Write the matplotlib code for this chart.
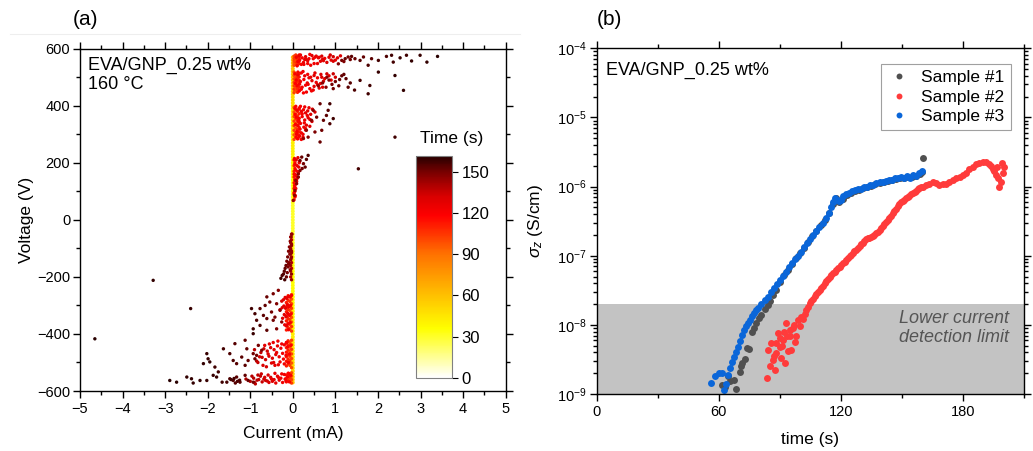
import numpy as np
import matplotlib
matplotlib.use('Agg')
import matplotlib.pyplot as plt
from matplotlib.colors import LinearSegmentedColormap, Normalize
from matplotlib.ticker import MultipleLocator, LogLocator, NullFormatter
from matplotlib.lines import Line2D

plt.rcParams['font.family'] = ['Liberation Sans', 'DejaVu Sans']
plt.rcParams['mathtext.fontset'] = 'custom'
plt.rcParams['mathtext.rm'] = 'Liberation Sans'
plt.rcParams['mathtext.it'] = 'Liberation Sans:italic'

###############################################################################
# (a) I-V points coloured by time
# thin band of early points sitting on I = 0
band_V = [-570, -560, -550, -540, -530, -520, -510, -500, -490, -480,
          -470, -460, -450, -440, -430, -420, -410, -400, -390, -380,
          -370, -360, -350, -340, -330, -320, -310, -300, -290, -280,
          -270, -260, -250, -240, -230, -220, -210, -200, -190, -180,
          -170, -160, -150, -140, -130, -120, -110, -100, -90, -80,
          -70, -60, -50, -40, -30, -20, -10, 0, 10, 20,
          30, 40, 50, 60, 70, 80, 90, 100, 110, 120,
          130, 140, 150, 160, 170, 180, 190, 200, 210, 220,
          230, 240, 250, 260, 270, 280, 290, 300, 310, 320,
          330, 340, 350, 360, 370, 380, 390, 400, 410, 420,
          430, 440, 450, 460, 470, 480, 490, 500, 510, 520,
          530, 540, 550, 560, 570]
band_t = [58, 56, 55, 54, 52, 52, 50, 50, 48, 48,
          47, 46, 46, 45, 44, 44, 43, 43, 42, 42,
          42, 41, 41, 40, 40, 40, 39, 39, 39, 38,
          38, 38, 37, 37, 37, 36, 36, 36, 35, 35,
          35, 34, 34, 34, 33, 33, 33, 32, 32, 32,
          31, 31, 30, 30, 30, 30, 30, 30, 30, 30,
          31, 31, 31, 32, 32, 33, 33, 34, 34, 35,
          35, 36, 36, 37, 37, 38, 38, 39, 39, 40,
          40, 41, 41, 42, 42, 43, 43, 44, 44, 45,
          45, 46, 46, 47, 47, 48, 48, 49, 49, 50,
          50, 51, 52, 52, 53, 54, 55, 56, 57, 58,
          59, 60, 61, 62, 63]
band_I = [0.0] * len(band_V)

# orange points just off zero current (one row per voltage step)
inner_I = [0.03, 0.07, 0.03, 0.07, 0.03, 0.07, 0.03, 0.07, 0.03, 0.07,
           0.03, 0.07, 0.03, 0.07, 0.03, 0.07, 0.03, 0.07, 0.03, 0.07, 0.03, 0.07, 0.03,
           0.03, 0.07, 0.03, 0.07, 0.03, 0.07, 0.03, 0.07, 0.03, 0.07, 0.03, 0.07, 0.03, 0.07, 0.03,
           0.03, 0.05, 0.03, 0.05, 0.03, 0.05, 0.03, 0.05, 0.03, 0.05, 0.03, 0.05, 0.03, 0.05, 0.03,
           -0.03, -0.05, -0.03, -0.05, -0.03, -0.05, -0.03, -0.05, -0.03, -0.05, -0.03, -0.05, -0.03, -0.05, -0.03, -0.05, -0.03,
           -0.03, -0.07, -0.03, -0.07, -0.03, -0.07, -0.03, -0.07, -0.03, -0.07, -0.03, -0.07, -0.03, -0.07, -0.03, -0.07, -0.03,
           -0.03, -0.07, -0.03, -0.07, -0.03, -0.07, -0.03, -0.07, -0.03, -0.07, -0.03, -0.07, -0.03,
           -0.03, -0.07, -0.03, -0.07, -0.03, -0.07, -0.03]
inner_V = [542, 546, 550, 554, 558, 562, 566, 570, 574, 578,
           446, 452, 458, 464, 470, 476, 482, 488, 494, 500, 506, 512, 518,
           282, 290, 298, 306, 314, 322, 330, 338, 346, 354, 362, 370, 378, 386, 394,
           70, 80, 90, 100, 110, 120, 130, 140, 150, 160, 170, 180, 190, 200, 210,
           -50, -60, -70, -80, -90, -100, -110, -120, -130, -140, -150, -160, -170, -180, -190, -200, -210,
           -262, -270, -278, -286, -294, -302, -310, -318, -326, -334, -342, -350, -358, -366, -374, -382, -390,
           -422, -430, -438, -446, -454, -462, -470, -478, -486, -494, -502, -510, -518,
           -536, -542, -548, -554, -560, -566, -572]
inner_t = [100, 104, 98, 106, 102, 100, 104, 98, 102, 106,
           102, 98, 106, 100, 104, 98, 102, 106, 100, 104, 98, 102, 100,
           100, 104, 98, 106, 102, 100, 104, 98, 102, 106, 100, 104, 98, 102, 100,
           112, 116, 110, 114, 118, 112, 116, 110, 114, 118, 112, 116, 110, 114, 118,
           140, 144, 138, 142, 146, 140, 144, 138, 142, 146, 140, 144, 138, 142, 146, 140, 144,
           100, 104, 98, 106, 102, 100, 104, 98, 102, 106, 100, 104, 98, 102, 106, 100, 104,
           102, 98, 106, 100, 104, 98, 102, 106, 100, 104, 98, 102, 100,
           100, 104, 98, 106, 102, 100, 104]

# second row of orange-red points a little further out
mid_I = [0.11, 0.15, 0.11, 0.15, 0.11, 0.15, 0.11, 0.15,
         0.11, 0.15, 0.11, 0.15, 0.11, 0.15, 0.11, 0.15, 0.11, 0.15, 0.11, 0.15,
         0.11, 0.15, 0.11, 0.15, 0.11, 0.15, 0.11, 0.15, 0.11, 0.15, 0.11, 0.15, 0.11, 0.15,
         -0.11, -0.15, -0.11, -0.15, -0.11, -0.15, -0.11, -0.15, -0.11, -0.15, -0.11, -0.15,
         -0.11, -0.15, -0.11, -0.15,
         -0.11, -0.15, -0.11, -0.15, -0.11, -0.15, -0.11, -0.15, -0.11, -0.15, -0.11, -0.15,
         -0.11, -0.15, -0.11, -0.15, -0.11, -0.15]
mid_V = [543, 548, 553, 558, 563, 568, 573, 578,
         447, 453, 459, 465, 471, 477, 483, 489, 495, 501, 507, 513,
         284, 292, 300, 308, 316, 324, 332, 340, 348, 356, 364, 372, 380, 388,
         -266, -274, -282, -290, -298, -306, -314, -322, -330, -338, -346, -354,
         -362, -370, -378, -386,
         -424, -432, -440, -448, -456, -464, -472, -480, -488, -496, -504, -512,
         -538, -544, -550, -556, -562, -568]
mid_t = [108, 112, 110, 114, 108, 112, 110, 114,
         110, 114, 108, 112, 110, 114, 108, 112, 110, 114, 108, 112,
         110, 114, 108, 112, 110, 114, 108, 112, 110, 114, 108, 112, 110, 114,
         110, 114, 108, 112, 110, 114, 108, 112, 110, 114, 108, 112,
         110, 114, 108, 112,
         110, 114, 108, 112, 110, 114, 108, 112, 110, 114, 108, 112,
         110, 114, 108, 112, 110, 114]

# red points (around 120-135 s)
red_I = [0.08, 0.15, 0.22, 0.30, 0.38, 0.45, 0.52, 0.60, 0.68, 0.75, 0.85, 0.95, 1.05,
         0.12, 0.25, 0.35, 0.50, 0.65, 0.80, 0.90, 0.20, 0.42, 0.58, 0.10, 0.32,
         0.05, 0.12, 0.20, 0.28, 0.35, 0.42, 0.50, 0.58, 0.66, 0.75, 0.85, 0.95, 0.08, 0.18, 0.26,
         0.34, 0.45, 0.55, 0.65, 0.72, 0.10, 0.22, 0.30, 0.40, 0.50, 0.62, 0.15, 0.32, 0.48, 0.25,
         0.05, 0.10, 0.15, 0.20, 0.25, 0.30, 0.35, 0.42, 0.08, 0.14, 0.22, 0.28, 0.36, 0.45, 0.06,
         0.12, 0.18, 0.26, 0.32, 0.40, 0.10, 0.20, 0.30, 0.16, 0.24, 0.12, 0.20, 0.05, 0.09, 0.15,
         0.04, 0.08, 0.12, 0.16, 0.05, 0.10, 0.14, 0.06, 0.11, 0.03,
         0.08, 0.13, 0.05, 0.09, 0.04, 0.07, 0.03, 0.06, 0.10, 0.15,
         -0.03, -0.06, -0.10, -0.14, -0.18, -0.22, -0.26, -0.05, -0.09, -0.13, -0.17, -0.21, -0.25,
         -0.30, -0.04, -0.08, -0.12, -0.16, -0.20, -0.24, -0.06, -0.11, -0.15, -0.19, -0.10,
         -0.05, -0.12, -0.20, -0.28, -0.36, -0.44, -0.52, -0.60, -0.68, -0.75, -0.08, -0.16, -0.24,
         -0.32, -0.40, -0.48, -0.56, -0.64, -0.72, -0.85, -0.10, -0.20, -0.30, -0.42, -0.50, -0.62,
         -0.15, -0.35, -0.55, -0.90,
         -0.05, -0.12, -0.20, -0.28, -0.36, -0.44, -0.52, -0.60, -0.68, -0.76, -0.84, -0.92, -0.08,
         -0.16, -0.24, -0.32, -0.40, -0.48, -0.56, -0.64, -0.72, -0.80, -0.90, -1.00, -1.10]
red_V = [570, 575, 568, 572, 565, 576, 570, 568, 574, 566, 570, 572, 568,
         555, 552, 558, 548, 556, 552, 560, 545, 542, 548, 540, 562,
         512, 508, 515, 505, 510, 500, 506, 498, 510, 495, 505, 512, 490, 485, 492,
         480, 488, 482, 478, 486, 470, 465, 472, 460, 468, 462, 452, 448, 455, 445,
         390, 385, 392, 380, 386, 375, 382, 370, 360, 355, 362, 350, 358, 345, 335,
         330, 338, 325, 332, 328, 310, 305, 315, 295, 300, 285, 282, 370, 300, 345,
         215, 210, 218, 205, 195, 190, 185, 175, 170, 160,
         155, 165, 140, 135, 120, 110, 95, 85, 145, 200,
         -265, -270, -268, -275, -272, -280, -285, -300, -305, -298, -310, -302, -308,
         -315, -330, -335, -328, -340, -332, -345, -360, -365, -372, -368, -385,
         -440, -445, -438, -450, -442, -455, -448, -460, -452, -465, -470, -475, -468,
         -480, -472, -485, -478, -490, -482, -495, -500, -505, -498, -510, -502, -515,
         -430, -425, -435, -455,
         -545, -550, -542, -555, -548, -560, -552, -565, -558, -548, -562, -555, -568,
         -565, -570, -562, -572, -566, -570, -563, -568, -560, -570, -566, -558]
red_t = [122, 126, 120, 128, 124, 130, 122, 126, 132, 124, 128, 134, 130,
         121, 125, 127, 123, 129, 131, 127, 120, 124, 126, 119, 125,
         121, 125, 123, 127, 122, 126, 129, 124, 131, 128, 132, 135, 120, 124, 122,
         126, 128, 125, 130, 133, 119, 123, 121, 125, 127, 129, 118, 122, 126, 120,
         120, 123, 121, 125, 124, 127, 129, 131, 119, 122, 124, 126, 128, 132, 118,
         121, 123, 125, 127, 130, 120, 122, 125, 121, 124, 119, 122, 118, 120, 121,
         124, 126, 128, 130, 122, 125, 127, 121, 124, 120,
         122, 126, 121, 123, 120, 122, 119, 121, 124, 128,
         120, 122, 124, 126, 128, 130, 132, 121, 123, 125, 127, 129, 131,
         134, 120, 122, 124, 126, 128, 130, 121, 123, 125, 127, 122,
         119, 121, 123, 125, 127, 129, 131, 133, 135, 137, 120, 122, 124,
         126, 128, 130, 132, 134, 136, 138, 121, 123, 125, 128, 130, 133,
         120, 124, 128, 138,
         119, 121, 123, 125, 127, 129, 131, 133, 135, 137, 138, 139, 120,
         122, 124, 126, 128, 130, 132, 134, 136, 137, 138, 139, 140]

# more red points filling the clusters
red2_I = [0.18, 0.28, 0.40, 0.55, 0.70, 0.88, 1.00, 1.12, 0.48, 0.62, 0.72, 0.35, 0.16, 0.26, 0.95,
          0.12, 0.24, 0.38, 0.52, 0.68, 0.80, 0.90, 1.00, 0.16, 0.36, 0.58, 0.44, 0.70, 0.20, 0.06,
          0.07, 0.18, 0.28, 0.38, 0.46, 0.52, 0.22, 0.34, 0.13, 0.27, 0.40, 0.17, 0.30, 0.08, 0.24,
          -0.14, -0.26, -0.38, -0.46, -0.58, -0.66, -0.78, -0.82, -0.70, -0.34, -0.22, -0.45,
          -0.10, -0.18, -0.26, -0.34, -0.42, -0.50, -0.58, -0.66, -0.74, -0.82, -0.88, -0.96]
red2_V = [578, 562, 580, 574, 563, 578, 560, 575, 565, 570, 558, 548, 560, 545, 556,
          518, 520, 498, 515, 500, 512, 490, 500, 476, 475, 474, 452, 465, 458, 478,
          398, 398, 396, 393, 388, 378, 372, 366, 345, 340, 352, 318, 320, 290, 290,
          -430, -435, -465, -430, -470, -440, -480, -500, -510, -508, -488, -500,
          -538, -558, -540, -552, -538, -558, -544, -552, -540, -544, -575, -548]
red2_t = [124, 128, 121, 126, 130, 133, 127, 131, 123, 126, 129, 122, 120, 125, 132,
          121, 124, 126, 129, 131, 133, 127, 134, 122, 125, 128, 123, 130, 120, 118,
          119, 121, 124, 127, 129, 131, 122, 125, 120, 123, 127, 121, 124, 118, 122,
          121, 124, 127, 126, 130, 128, 133, 136, 132, 125, 122, 129,
          118, 121, 123, 125, 127, 129, 131, 133, 135, 137, 138, 139]

# dark points (last ~15 s)
late_I = [1.07, 1.15, 1.23, 1.30, 1.38, 1.46, 1.58, 1.66, 1.77, 1.85, 2.01,
          2.20, 2.32, 2.36, 2.52, 2.67, 2.79, 2.99, 3.15, 3.40, 1.20, 1.35,
          0.60, 0.70, 0.78, 0.85, 0.92, 1.00, 1.08, 1.15, 1.25, 1.35, 1.45,
          1.58, 1.77, 1.81, 2.01, 2.40, 2.60, 0.80, 0.95, 1.10, 1.30, 1.20,
          0.64, 0.48, 0.56, 0.44, 0.72, 0.83, 0.87, 0.79, 0.32, 0.36, 0.52, 0.64, 0.87, 0.95, 0.68, 0.25,
          0.21, 0.36, 0.25, 0.17, 0.13, 0.09, 0.05, 0.17, 0.29, 0.13, 0.07, 0.04, 0.01, 0.32, 0.22,
          -0.02, -0.04, -0.06, -0.03, -0.08, -0.05, -0.10, -0.07, -0.12, -0.04, -0.14, -0.09, -0.16,
          -0.11, -0.18, -0.06, -0.20, -0.13, -0.22, -0.25, -0.28, -0.15, -0.10, -0.03, -0.19,
          -0.34, -0.46, -0.61, -0.54, -0.65, -0.38, -0.77, -0.97, -0.89, -0.69, -0.50,
          -0.30, -0.85, -0.61, -0.42, -0.93, -0.77, -0.61, -0.26, -0.38, -0.93, -0.46,
          -1.63, -1.36, -1.48, -1.12, -1.08, -0.93, -0.81, -0.89, -1.05, -1.20, -1.32, -1.12,
          -0.73, -2.02, -1.99, -1.95, -2.10, -1.83, -1.75, -1.87, -1.79, -1.40, -0.85,
          -1.40, -1.32, -1.48, -1.24, -1.12, -1.05, -1.55, -0.93, -2.89, -2.73, -2.49,
          -2.34, -2.18, -2.38, -2.02, -1.66, -1.30, -1.45, -1.35, -1.25, -1.38,
          2.40, 1.54, -4.65, -3.28, -2.40]
late_V = [547, 559, 565, 571, 573, 565, 559, 571, 542, 565, 559,
          573, 577, 553, 568, 577, 557, 577, 553, 573, 555, 562,
          470, 480, 465, 490, 475, 485, 470, 505, 495, 480, 455,
          489, 442, 471, 518, 506, 454, 500, 460, 492, 465, 510,
          407, 384, 360, 349, 349, 384, 337, 366, 314, 290, 308, 273, 407, 355, 314, 285,
          220, 226, 197, 173, 150, 127, 103, 208, 185, 161, 138, 86, 68, 212, 180,
          -50, -60, -75, -85, -95, -105, -110, -120, -130, -135, -145, -150, -160,
          -165, -170, -175, -180, -185, -190, -195, -205, -200, -155, -115, -210,
          -247, -259, -270, -288, -300, -294, -311, -311, -329, -335, -323,
          -317, -352, -346, -341, -382, -370, -387, -358, -382, -399, -352,
          -452, -434, -469, -422, -452, -469, -440, -487, -493, -481, -504, -510,
          -457, -469, -487, -498, -504, -516, -533, -545, -551, -493, -475,
          -563, -551, -557, -569, -545, -563, -569, -569, -563, -569, -551,
          -572, -563, -557, -563, -569, -566, -560, -572, -562, -556,
          290, 179, -417, -212, -311]
late_t = [148, 150, 152, 150, 154, 152, 155, 153, 156, 154, 157,
          156, 158, 157, 159, 158, 160, 159, 160, 161, 149, 151,
          146, 147, 148, 149, 150, 151, 152, 153, 154, 155, 156,
          157, 158, 158, 159, 160, 160, 148, 150, 152, 154, 153,
          152, 148, 150, 147, 153, 155, 156, 154, 146, 147, 149, 152, 157, 158, 151, 145,
          152, 156, 150, 148, 147, 146, 145, 150, 153, 148, 146, 145, 144, 155, 151,
          145, 146, 147, 145, 148, 146, 149, 147, 150, 146, 151, 148, 152,
          149, 153, 147, 154, 150, 155, 156, 158, 152, 149, 145, 157,
          148, 150, 152, 151, 153, 149, 155, 158, 157, 154, 151,
          147, 156, 153, 150, 158, 156, 154, 146, 149, 159, 151,
          157, 155, 156, 153, 153, 151, 150, 152, 153, 154, 155, 154,
          149, 159, 159, 160, 160, 158, 158, 159, 159, 156, 150,
          155, 154, 156, 155, 153, 152, 157, 150, 161, 161, 160,
          160, 160, 160, 159, 158, 156, 157, 155, 156, 157,
          158, 157, 161, 160, 159]

time_ticks = [0, 30, 60, 90, 120, 150]

# (b) conductivity vs time
s1_t = [61.5, 63, 64.5, 65.5, 67.4, 68.7, 70.3, 71, 71.6, 72.8, 74.1, 74.9, 76.1, 77.3, 78.5,
        80, 81, 82.5, 84, 85, 86.5, 88, 90, 92, 94, 96, 98, 100, 102, 104, 106, 108, 110,
        112, 114, 116, 117.5, 119, 121, 123, 125, 127, 129, 131, 133, 135, 137, 139, 141,
        143, 145, 147, 149, 151, 153, 155, 157, 159, 160, 160.6]
s1_sig = [1.35e-9, 1.25e-9, 1.8e-9, 1.55e-9, 1.6e-9, 1.17e-9, 2.1e-9, 2.5e-9, 2.8e-9, 3.2e-9,
          4.6e-9, 4.5e-9, 7.9e-9, 9.0e-9, 1.05e-8, 1.25e-8, 1.4e-8, 1.7e-8, 1.95e-8, 2.2e-8,
          2.7e-8, 3.2e-8, 4.1e-8, 5.2e-8, 6.3e-8, 7.6e-8, 9.2e-8, 1.1e-7, 1.3e-7, 1.58e-7,
          1.9e-7, 2.25e-7, 2.75e-7, 3.3e-7, 4.1e-7, 5.6e-7, 6.9e-7, 6.0e-7, 6.6e-7, 7.6e-7,
          8.2e-7, 8.7e-7, 8.9e-7, 9.4e-7, 9.8e-7, 1.03e-6, 1.08e-6, 1.12e-6, 1.15e-6, 1.2e-6,
          1.24e-6, 1.3e-6, 1.32e-6, 1.33e-6, 1.36e-6, 1.38e-6, 1.42e-6, 1.5e-6, 1.6e-6, 2.57e-6]

s2_t = [83.7, 84.2, 85.0, 85.9, 86.7, 87.0, 87.5, 88.0, 88.3, 89.1, 89.9, 90.0, 90.8, 91.0,
        91.6, 92.0, 92.4, 93.2, 93.6, 94.0, 94.8, 95.0, 95.7, 96.5, 97.0, 97.3, 98.1, 98.9,
        99.7, 100.6, 101.5, 102.2, 103.0, 103.8, 104.7, 105.5, 106.3, 107.1, 108.0, 108.8,
        109.6, 110.4, 111.2, 112.0, 112.9, 113.7, 114.5, 115.3, 116.1, 116.9, 117.7, 118.5,
        119.4, 120.2, 121.0, 121.8, 122.7, 123.5, 124.3, 125.1, 125.9, 126.7, 127.5, 128.4,
        129.2, 130.0, 130.8, 131.6, 132.5, 133.3, 134.0, 134.9, 135.7, 136.5, 137.3, 138.1,
        139.0, 139.8, 140.6, 141.4, 142.3, 143.1, 143.9, 144.7, 145.5, 146.3, 147.2, 148.0,
        148.8, 149.6, 150.4, 151.2, 152.1, 152.9, 153.7, 154.5, 155.4, 156.2, 157.0, 157.8,
        158.6, 159.4, 160.2, 161.9, 163.5, 165.2, 166.8, 168.4, 170.0, 171.7, 173.3, 175.0,
        176.6, 178.3, 179.9, 181.5, 183.2, 184.8, 186.4, 188.1, 189.7, 191.4, 193.0, 193.8,
        194.6, 195.4, 196.2, 196.5, 197.1, 197.9, 198.7, 199.2, 199.5, 200.4]
s2_sig = [1.7e-9, 4.4e-9, 2.5e-9, 5.4e-9, 3.1e-9, 3.6e-9, 2.2e-9, 5.5e-9, 3.9e-9, 7.6e-9,
          4.8e-9, 6.5e-9, 3.3e-9, 5.0e-9, 6.0e-9, 8.0e-9, 2.8e-9, 1.05e-8, 6.8e-9, 4.2e-9,
          8.5e-9, 7.0e-9, 4.4e-9, 8.9e-9, 1.0e-8, 5.6e-9, 6.8e-9, 1.17e-8, 9.5e-9, 1.32e-8,
          1.2e-8, 1.45e-8, 1.66e-8, 1.8e-8, 2.04e-8, 2.2e-8, 2.4e-8, 2.6e-8, 2.8e-8, 3.0e-8,
          3.2e-8, 3.45e-8, 3.7e-8, 4.0e-8, 4.3e-8, 4.6e-8, 4.9e-8, 5.2e-8, 5.6e-8, 5.9e-8,
          6.3e-8, 6.6e-8, 6.9e-8, 7.3e-8, 7.8e-8, 8.2e-8, 8.7e-8, 9.2e-8, 9.8e-8, 1.04e-7,
          1.1e-7, 1.16e-7, 1.23e-7, 1.3e-7, 1.38e-7, 1.46e-7, 1.55e-7, 1.64e-7, 1.74e-7,
          1.78e-7, 1.82e-7, 1.86e-7, 1.9e-7, 2.0e-7, 2.1e-7, 2.2e-7, 2.35e-7, 2.5e-7, 2.7e-7,
          2.9e-7, 3.1e-7, 3.3e-7, 3.55e-7, 3.8e-7, 4.1e-7, 4.45e-7, 4.8e-7, 5.2e-7, 5.6e-7,
          5.9e-7, 6.2e-7, 6.5e-7, 6.8e-7, 7.1e-7, 7.4e-7, 7.8e-7, 8.1e-7, 8.4e-7, 8.7e-7,
          9.1e-7, 9.5e-7, 9.8e-7, 1.0e-6, 1.05e-6, 1.1e-6, 1.15e-6, 1.12e-6, 1.07e-6, 1.1e-6,
          1.1e-6, 1.17e-6, 1.26e-6, 1.32e-6, 1.38e-6, 1.48e-6, 1.58e-6, 1.78e-6, 1.95e-6,
          2.1e-6, 2.2e-6, 2.3e-6, 2.3e-6, 2.15e-6, 2.0e-6, 1.78e-6, 1.66e-6, 1.45e-6, 1.9e-6,
          1.32e-6, 1.0e-6, 1.17e-6, 2.2e-6, 1.58e-6, 1.95e-6]

s3_t = [56, 58, 60, 61.5, 62.5, 63.5, 64.5, 65.5, 66.5, 67.5, 68.5, 69.5, 70.5, 71.5, 72.5,
        73.5, 74.5, 75.5, 76.5, 77.5, 78.5, 79.5, 81, 82.5, 84, 85.5, 87, 88.5, 90, 91.5,
        93, 94.5, 96, 97.5, 99, 100.5, 102, 103.5, 105, 106.5, 108, 109.5, 111, 112.5,
        114, 115, 116, 117, 118, 119, 120, 121, 122.5, 124, 125.5, 127, 128.5, 130, 131.5,
        133, 134.5, 136, 137.5, 139, 140.5, 142, 143.5, 145, 146.5, 148, 149.5, 151,
        152.5, 154, 155.5, 157, 158.5, 160]
s3_sig = [1.45e-9, 1.8e-9, 2.0e-9, 2.0e-9, 1.15e-9, 1.4e-9, 1.9e-9, 2.4e-9, 2.95e-9, 3.4e-9,
          4.0e-9, 4.8e-9, 5.8e-9, 7.1e-9, 8.3e-9, 9.5e-9, 1.07e-8, 1.17e-8, 1.35e-8, 1.48e-8,
          1.66e-8, 1.78e-8, 2.0e-8, 2.3e-8, 2.57e-8, 2.95e-8, 3.4e-8, 3.9e-8, 4.47e-8, 5.1e-8,
          5.9e-8, 6.8e-8, 7.8e-8, 8.9e-8, 1.0e-7, 1.15e-7, 1.32e-7, 1.51e-7, 1.74e-7, 2.0e-7,
          2.3e-7, 2.63e-7, 3.0e-7, 3.55e-7, 4.2e-7, 5.0e-7, 6.0e-7, 6.8e-7, 6.5e-7, 6.2e-7,
          6.5e-7, 7.2e-7, 7.8e-7, 8.1e-7, 8.5e-7, 8.9e-7, 9.1e-7, 9.3e-7, 9.8e-7, 1.0e-6,
          1.05e-6, 1.07e-6, 1.12e-6, 1.15e-6, 1.17e-6, 1.2e-6, 1.26e-6, 1.26e-6, 1.35e-6,
          1.32e-6, 1.38e-6, 1.35e-6, 1.41e-6, 1.32e-6, 1.45e-6, 1.41e-6, 1.55e-6, 1.66e-6]

detection_limit = 2e-8
###############################################################################

# colour map of the time scale: white -> yellow -> orange -> red -> near black
cmap = LinearSegmentedColormap.from_list(
    'time', [(0.0, '#ffffff'), (0.22, '#ffff00'), (0.40, '#ffb400'), (0.56, '#ff7000'),
             (0.73, '#ff0000'), (0.82, '#d80000'), (0.92, '#800000'), (1.0, '#250000')])
norm = Normalize(vmin=0, vmax=162)

fig = plt.figure(figsize=(10.33, 4.51), dpi=100)


def style_ticks(ax):
    ax.tick_params(which='both', top=True, right=True, labelsize=10.5, width=1.0)
    ax.tick_params(axis='x', which='major', direction='out', length=5, pad=3)
    ax.tick_params(axis='y', which='major', direction='out', length=5, pad=2)
    ax.tick_params(which='minor', direction='out', length=3)
    for sp in ax.spines.values():
        sp.set_linewidth(1.0)


# (a) I-V chart
ax1 = fig.add_axes([0.0774, 0.1330, 0.4121, 0.7590])
groups = [(band_I, band_V, band_t, 8), (inner_I, inner_V, inner_t, 6),
          (mid_I, mid_V, mid_t, 6), (red_I, red_V, red_t, 6),
          (red2_I, red2_V, red2_t, 6), (late_I, late_V, late_t, 6)]
for I, V, t, size in groups:
    sc = ax1.scatter(I, V, c=t, cmap=cmap, norm=norm, s=size, linewidths=0, marker='o')
ax1.set_xlim(-5, 5)
ax1.set_ylim(-600, 600)
ax1.xaxis.set_major_locator(MultipleLocator(1))
ax1.xaxis.set_minor_locator(MultipleLocator(0.5))
ax1.yaxis.set_major_locator(MultipleLocator(200))
ax1.yaxis.set_minor_locator(MultipleLocator(100))
style_ticks(ax1)
ax1.set_xlabel('Current (mA)', fontsize=12.5, labelpad=7)
ax1.set_ylabel('Voltage (V)', fontsize=12.5, labelpad=2)
ax1.text(0.02, 0.975, 'EVA/GNP_0.25 wt%\n160 \u00b0C', transform=ax1.transAxes,
         fontsize=13, va='top', ha='left', linespacing=1.15)

cax = fig.add_axes([0.4027, 0.1625, 0.0346, 0.4922])
cb = fig.colorbar(sc, cax=cax, ticks=time_ticks)
cb.outline.set_edgecolor('#808080')
cb.outline.set_linewidth(0.8)
cax.tick_params(direction='out', length=4, labelsize=12, pad=3)
fig.text(0.4375, 0.692, 'Time (s)', fontsize=12.5, ha='center', va='center')

# (b) sigma vs time
ax2 = fig.add_axes([0.5776, 0.1264, 0.4137, 0.7665])
ax2.set_yscale('log')
ax2.axhspan(1e-9, detection_limit, color='#c3c3c3', lw=0, zorder=0)
ax2.plot(s1_t, s1_sig, 'o', ms=5, mew=0, color='#505050', label='Sample #1')
ax2.plot(s2_t, s2_sig, 'o', ms=5, mew=0, color='#ff3b3b', label='Sample #2')
ax2.plot(s3_t, s3_sig, 'o', ms=5, mew=0, color='#0a66d9', label='Sample #3')
ax2.set_xlim(0, 210)
ax2.set_ylim(1e-9, 1e-4)
ax2.xaxis.set_major_locator(MultipleLocator(60))
ax2.xaxis.set_minor_locator(MultipleLocator(30))
ax2.yaxis.set_major_locator(LogLocator(base=10, numticks=10))
ax2.yaxis.set_minor_locator(LogLocator(base=10, subs=np.arange(2, 10), numticks=10))
ax2.yaxis.set_minor_formatter(NullFormatter())
style_ticks(ax2)
ax2.set_xlabel('time (s)', fontsize=12.5, labelpad=9)
ax2.set_ylabel(r'$\sigma_z$ (S/cm)', fontsize=12.5, labelpad=9)
ax2.text(0.021, 0.937, 'EVA/GNP_0.25 wt%', transform=ax2.transAxes,
         fontsize=13, va='center', ha='left')
ax2.text(0.966, 0.19, 'Lower current\ndetection limit', transform=ax2.transAxes,
         fontsize=13, style='italic', color='#555555', ha='right', va='center',
         linespacing=1.15)
leg = ax2.legend(loc='upper right', bbox_to_anchor=(0.969, 0.955), borderaxespad=0,
                 fontsize=12.5, frameon=True, fancybox=False, markerscale=0.85,
                 handletextpad=0.6, borderpad=0.35, labelspacing=0.25, handlelength=1.4)
leg.get_frame().set_edgecolor('#888888')
leg.get_frame().set_linewidth(0.8)

fig.text(0.0828, 0.956, '(a)', fontsize=15, ha='center', va='center')
fig.text(0.5895, 0.956, '(b)', fontsize=15, ha='center', va='center')
fig.add_artist(Line2D([0.01, 0.503], [0.924, 0.924], transform=fig.transFigure,
                      color='#eeeeee', lw=0.8))

fig.savefig('out.png', dpi=100)
